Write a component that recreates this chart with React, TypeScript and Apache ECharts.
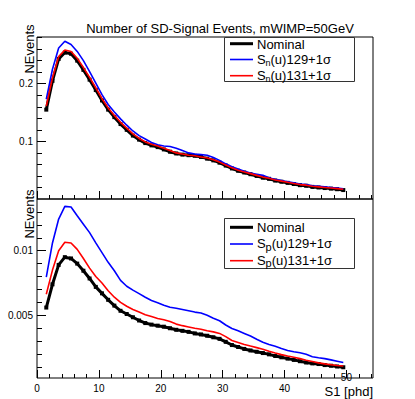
import React, { useEffect, useRef } from 'react';
import * as echarts from 'echarts';

const s1Bins = [1.5, 2.5, 3.5, 4.5, 5.5, 6.5, 7.5, 8.5, 9.5, 10.5, 11.5, 12.5, 13.5, 14.5, 15.5, 16.5, 17.5, 18.5, 19.5, 20.5, 21.5, 22.5, 23.5, 24.5, 25.5, 26.5, 27.5, 28.5, 29.5, 30.5, 31.5, 32.5, 33.5, 34.5, 35.5, 36.5, 37.5, 38.5, 39.5, 40.5, 41.5, 42.5, 43.5, 44.5, 45.5, 46.5, 47.5, 48.5, 49.5];

const nominalSn = [0.155, 0.205, 0.243, 0.254, 0.252, 0.240, 0.224, 0.207, 0.189, 0.171, 0.155, 0.142, 0.130, 0.120, 0.110, 0.103, 0.097, 0.093, 0.090, 0.086, 0.082, 0.079, 0.077, 0.076, 0.075, 0.073, 0.070, 0.067, 0.063, 0.058, 0.053, 0.049, 0.046, 0.043, 0.040, 0.037, 0.035, 0.032, 0.030, 0.028, 0.026, 0.024, 0.023, 0.021, 0.020, 0.019, 0.018, 0.017, 0.0155];
const sn129 = [0.173, 0.225, 0.262, 0.2735, 0.268, 0.256, 0.240, 0.221, 0.201, 0.181, 0.164, 0.151, 0.139, 0.128, 0.118, 0.110, 0.104, 0.098, 0.094, 0.092, 0.091, 0.088, 0.084, 0.080, 0.078, 0.077, 0.076, 0.072, 0.067, 0.061, 0.056, 0.052, 0.048, 0.045, 0.043, 0.041, 0.037, 0.034, 0.032, 0.030, 0.028, 0.026, 0.025, 0.023, 0.022, 0.021, 0.020, 0.019, 0.0175];
const sn131 = [0.161, 0.210, 0.247, 0.2585, 0.256, 0.244, 0.228, 0.211, 0.193, 0.174, 0.158, 0.145, 0.133, 0.123, 0.113, 0.105, 0.099, 0.095, 0.092, 0.088, 0.084, 0.080, 0.078, 0.076, 0.075, 0.073, 0.071, 0.068, 0.064, 0.059, 0.054, 0.050, 0.047, 0.044, 0.041, 0.038, 0.036, 0.033, 0.031, 0.029, 0.027, 0.025, 0.024, 0.022, 0.021, 0.020, 0.019, 0.018, 0.017];

const nominalSp = [0.00560, 0.00740, 0.00890, 0.00950, 0.00940, 0.00900, 0.00845, 0.00785, 0.00720, 0.00670, 0.00620, 0.00575, 0.00535, 0.00510, 0.00485, 0.00460, 0.00440, 0.00428, 0.00420, 0.00412, 0.00400, 0.00388, 0.00380, 0.00372, 0.00360, 0.00352, 0.00342, 0.00330, 0.00318, 0.00295, 0.00270, 0.00255, 0.00240, 0.00228, 0.00218, 0.00208, 0.00198, 0.00185, 0.00175, 0.00165, 0.00155, 0.00145, 0.00135, 0.00128, 0.00123, 0.00115, 0.00110, 0.00104, 0.00098];
const sp129 = [0.00795, 0.01060, 0.01245, 0.01343, 0.01338, 0.01270, 0.01205, 0.01140, 0.01060, 0.00985, 0.00910, 0.00845, 0.00770, 0.00725, 0.00695, 0.00668, 0.00640, 0.00615, 0.00598, 0.00578, 0.00562, 0.00555, 0.00545, 0.00535, 0.00525, 0.00518, 0.00500, 0.00478, 0.00458, 0.00425, 0.00398, 0.00380, 0.00360, 0.00340, 0.00315, 0.00292, 0.00275, 0.00260, 0.00243, 0.00228, 0.00218, 0.00210, 0.00198, 0.00180, 0.00172, 0.00165, 0.00155, 0.00145, 0.00135];
const sp131 = [0.00663, 0.00850, 0.01000, 0.01065, 0.01060, 0.01010, 0.00940, 0.00865, 0.00800, 0.00750, 0.00690, 0.00640, 0.00600, 0.00570, 0.00545, 0.00525, 0.00505, 0.00490, 0.00475, 0.00465, 0.00452, 0.00432, 0.00420, 0.00410, 0.00400, 0.00392, 0.00380, 0.00372, 0.00360, 0.00335, 0.00305, 0.00290, 0.00275, 0.00262, 0.00250, 0.00238, 0.00222, 0.00208, 0.00196, 0.00185, 0.00175, 0.00165, 0.00152, 0.00142, 0.00132, 0.00124, 0.00118, 0.00112, 0.00108];

const xMajorTicks = [0, 10, 20, 30, 40, 50];
const xMinorTicks = [2, 4, 6, 8, 12, 14, 16, 18, 22, 24, 26, 28, 32, 34, 36, 38, 42, 44, 46, 48, 52, 54];
const xTickLabels = [0, 10, 20, 30, 40];
const xLastLabel = [50];
const topYMajor = [0.1, 0.2];
const topYMinor = [0.02, 0.04, 0.06, 0.08, 0.12, 0.14, 0.16, 0.18, 0.22, 0.24, 0.26, 0.28];
const botYMajor = [0.005, 0.01];
const botYMinor = [0.001, 0.002, 0.003, 0.004, 0.006, 0.007, 0.008, 0.009, 0.011, 0.012, 0.013];

const titleText = 'Number of SD-Signal Events, mWIMP=50GeV';
const yTitle = 'NEvents';
const xTitle = 'S1 [phd]';

const FONT = '"Liberation Sans", Arial, Helvetica, sans-serif';

function tickAxis(
  gridIndex: number,
  position: string,
  min: number,
  max: number,
  ticks: number[],
  len: number,
  labels: number[] | null,
  margin: number,
  fmt?: (v: number) => string
) {
  return {
    type: 'value',
    gridIndex,
    position,
    min,
    max,
    axisLine: { show: false, onZero: false },
    splitLine: { show: false },
    axisTick: { show: true, inside: true, length: len, customValues: ticks, lineStyle: { color: '#000', width: 1 } },
    axisLabel: labels
      ? {
          show: true,
          customValues: labels,
          margin,
          fontSize: 10,
          fontFamily: FONT,
          color: '#000',
          formatter: fmt ? (v: number) => fmt(v) : undefined,
        }
      : { show: false },
  };
}

function txt(x: number, y: number, text: string, size: number, align: string = 'left', extra: any = {}) {
  return {
    type: 'text',
    x,
    y,
    z: 100,
    ...extra,
    style: {
      text,
      fontSize: size,
      fontFamily: FONT,
      fill: '#000',
      align,
      verticalAlign: 'middle',
      textAlign: align,
      textVerticalAlign: 'middle',
    },
  };
}

function legendLine(y: number, color: string, width: number) {
  return { type: 'line', z: 100, shape: { x1: 230, y1: y, x2: 253, y2: y }, style: { stroke: color, lineWidth: width } };
}

function subLabel(y: number, sub: string, rest: string, subSize: number) {
  return [
    txt(257, y, 'S', 13),
    txt(265.5, y + 3, sub, subSize),
    txt(265.5 + subSize * 0.56, y, rest, 13),
  ];
}

function lineSeries(name: string, xi: number, yi: number, vals: number[], color: string, width: number, marker: boolean, z: number) {
  return {
    type: 'line',
    name,
    xAxisIndex: xi,
    yAxisIndex: yi,
    data: s1Bins.map((x, i) => [x, vals[i]]),
    lineStyle: { color, width },
    itemStyle: { color },
    symbol: marker ? 'rect' : 'none',
    symbolSize: 4,
    showSymbol: marker,
    showAllSymbol: true,
    z,
    silent: true,
  };
}

export default function App() {
  const ref = useRef<HTMLDivElement>(null);
  useEffect(() => {
    if (!ref.current) return;
    const chart = echarts.init(ref.current, null, { renderer: 'svg' });
    const option: any = {
      animation: false,
      backgroundColor: '#fff',
      grid: [
        { left: 37, top: 37, width: 336, height: 162, show: true, borderColor: '#000', borderWidth: 1, backgroundColor: 'transparent' },
        { left: 37, top: 199, width: 336, height: 179, show: true, borderColor: '#000', borderWidth: 1, backgroundColor: 'transparent' },
      ],
      xAxis: [
        tickAxis(0, 'bottom', 0, 54.3, xMajorTicks, 8, null, 0),
        tickAxis(0, 'bottom', 0, 54.3, xMinorTicks, 4, null, 0),
        tickAxis(1, 'bottom', 0, 54.3, xMajorTicks, 8, xTickLabels, 5),
        tickAxis(1, 'bottom', 0, 54.3, xMinorTicks, 4, xLastLabel, -6),
      ],
      yAxis: [
        tickAxis(0, 'left', 0, 0.281, topYMajor, 9, topYMajor, 4, (v) => String(Math.round(v * 10) / 10)),
        tickAxis(0, 'left', 0, 0.281, topYMinor, 5, null, 0),
        tickAxis(1, 'left', 0.00015, 0.014, botYMajor, 9, botYMajor, 4, (v) => (v < 0.007 ? '0.005' : '0.01')),
        tickAxis(1, 'left', 0.00015, 0.014, botYMinor, 5, null, 0),
      ],
      series: [
        lineSeries('Nominal', 0, 0, nominalSn, '#000000', 3, true, 2),
        lineSeries('Sn(u)129+1σ', 0, 0, sn129, '#0000ff', 1.6, false, 3),
        lineSeries('Sn(u)131+1σ', 0, 0, sn131, '#ff0000', 1.6, false, 4),
        lineSeries('Nominal ', 2, 2, nominalSp, '#000000', 3, true, 2),
        lineSeries('Sp(u)129+1σ', 2, 2, sp129, '#0000ff', 1.6, false, 3),
        lineSeries('Sp(u)131+1σ', 2, 2, sp131, '#ff0000', 1.6, false, 4),
      ],
      graphic: [
        txt(220, 28, titleText, 13, 'center'),
        txt(29, 49, yTitle, 13, 'center', { rotation: Math.PI / 2 }),
        txt(29, 214, yTitle, 13, 'center', { rotation: Math.PI / 2 }),
        txt(373, 391.5, xTitle, 13, 'right'),
        { type: 'rect', z: 99, shape: { x: 224.5, y: 37.5, width: 130, height: 44 }, style: { fill: '#fff', stroke: '#333', lineWidth: 1 } },
        legendLine(43.7, '#000', 3),
        legendLine(59.5, '#0000ff', 1.6),
        legendLine(75.7, '#ff0000', 1.6),
        txt(257, 44, 'Nominal', 13),
        ...subLabel(59.5, 'n', '(u)129+1σ', 9),
        ...subLabel(75.5, 'n', '(u)131+1σ', 9),
        { type: 'rect', z: 99, shape: { x: 224.5, y: 218.5, width: 130, height: 50 }, style: { fill: '#fff', stroke: '#333', lineWidth: 1 } },
        legendLine(227.3, '#000', 3),
        legendLine(244, '#0000ff', 1.6),
        legendLine(260.7, '#ff0000', 1.6),
        txt(257, 227, 'Nominal', 13),
        ...subLabel(243.5, 'p', '(u)129+1σ', 11),
        ...subLabel(260, 'p', '(u)131+1σ', 11),
      ],
    };
    chart.setOption(option);
    return () => chart.dispose();
  }, []);
  return (
    <div
      ref={ref}
      style={{ position: 'fixed', left: 0, top: 0, width: 415, height: 399, background: '#fff' }}
    />
  );
}
